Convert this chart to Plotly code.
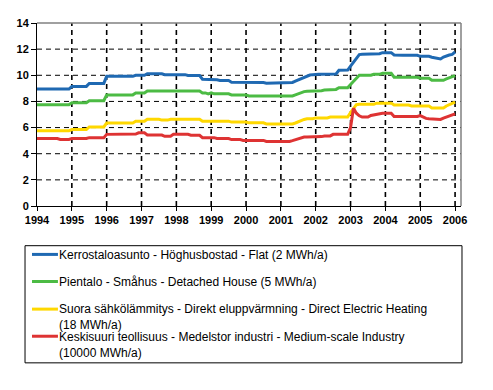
import pandas as pd
import plotly.graph_objects as go

# ---------------- data (monthly, Jan 1994 .. Jan 2006) ----------------
months = pd.date_range("1994-01-01", periods=145, freq="MS")
t_years = list(months.year + (months.month - 1) / 12.0)  # decimal years

flat = (
    [8.95] * 12 +
    [9.15] * 6 + [9.38] * 6 +
    [9.92] * 10 + [10.0] * 2 +
    [10.0] * 2 + [10.12] * 6 + [10.05] * 4 +
    [10.05] * 4 + [9.98] * 5 + [9.7] * 3 +
    [9.68] * 2 + [9.65] + [9.6] * 4 + [9.47] * 5 +
    [9.45] * 7 + [9.4] * 3 + [9.45] * 2 +
    [9.45] * 5 + [9.55, 9.65, 9.75, 9.85, 9.95, 10.02, 10.05] +
    [10.08] * 7 + [10.1] + [10.38, 10.4, 10.4, 10.4] +
    [10.7, 11.0, 11.3, 11.58, 11.6, 11.6, 11.6, 11.6, 11.6, 11.63, 11.65, 11.73] +
    [11.73] * 3 + [11.55] + [11.53] * 8 +
    [11.45] * 4 + [11.38, 11.33, 11.28, 11.25, 11.4, 11.5, 11.55, 11.6] +
    [11.78]
)

house = (
    [7.75] * 12 +
    [7.9] * 6 + [8.05] * 6 +
    [8.5] * 10 + [8.64] * 2 +
    [8.64] * 2 + [8.8] * 10 +
    [8.8] * 9 + [8.65] * 2 + [8.58] +
    [8.65] + [8.58] * 6 + [8.5] * 5 +
    [8.5] + [8.42] * 11 +
    [8.42] * 5 + [8.5, 8.6, 8.68, 8.75] + [8.78] * 3 +
    [8.82] * 3 + [8.87] * 3 + [8.92] * 2 + [9.05] * 4 +
    [9.3, 9.55, 9.8] + [10.0] * 5 + [10.07] * 3 + [10.15] +
    [10.15] * 3 + [9.85] * 9 +
    [9.78] * 4 + [9.62] * 5 + [9.72, 9.8, 9.87] +
    [9.98]
)

heating = (
    [5.75] * 12 +
    [5.85] * 6 + [6.05] * 6 +
    [6.35] * 10 + [6.48] * 2 +
    [6.48] * 2 + [6.64] * 5 + [6.57] * 3 + [6.64] * 2 +
    [6.64] * 9 + [6.49] * 3 +
    [6.49] * 7 + [6.42] * 5 +
    [6.42] + [6.36] * 6 + [6.28] * 5 +
    [6.28] * 5 + [6.35, 6.45, 6.55, 6.62] + [6.68] * 3 +
    [6.74] * 5 + [6.8] * 7 +
    [7.15, 7.5, 7.75] + [7.78] * 6 + [7.87] * 3 +
    [7.87] * 3 + [7.72] * 6 + [7.65] * 3 +
    [7.65] * 4 + [7.5] * 5 + [7.65, 7.75, 7.82] +
    [7.95]
)

industry = (
    [5.16] * 8 + [5.09] * 4 +
    [5.16] * 6 + [5.23] * 6 +
    [5.48] * 10 + [5.5, 5.6] +
    [5.6] * 2 + [5.43] * 6 + [5.33] * 3 + [5.48] +
    [5.48] * 5 + [5.41] * 4 + [5.23] * 3 +
    [5.23] * 2 + [5.16] * 5 + [5.08] * 4 + [5.02] +
    [5.02] * 7 + [4.94] * 5 +
    [4.94] * 4 + [5.0, 5.08, 5.15, 5.2] + [5.27] * 4 +
    [5.31] * 3 + [5.36] * 3 + [5.48] * 6 +
    [6.0, 7.48, 7.1, 6.9, 6.8, 6.8, 6.8, 6.93, 6.98, 6.98, 7.05, 7.1] +
    [7.1] * 3 + [6.85] * 9 +
    [6.92, 6.8, 6.7, 6.67, 6.67, 6.67, 6.62, 6.62, 6.72, 6.8, 6.9, 7.0] +
    [7.05]
)

series_names = [
    "Kerrostaloasunto - Höghusbostad - Flat (2 MWh/a)",
    "Pientalo - Småhus - Detached House (5 MWh/a)",
    "Suora sähkölämmitys - Direkt eluppvärmning - Direct Electric Heating<br>(18 MWh/a)",
    "Keskisuuri teollisuus - Medelstor industri - Medium-scale Industry<br>(10000 MWh/a)",
]
series_values = [flat, house, heating, industry]
series_colors = ["#1f69b2", "#4cbb44", "#ffd800", "#de3333"]

year_ticks = list(range(1994, 2007))
year_labels = [str(y) for y in year_ticks]
y_ticks = list(range(0, 15, 2))
Y_MAX = 14

# ---------------- figure ----------------
FONT = "Liberation Sans, Arial, sans-serif"
OFF = 8  # default page margin around the plot div (left/top)
W, H = 493 - OFF, 390 - OFF
ML, MT = 36 - OFF, 17 - OFF
MR, MB = 32, 184
pw, ph = W - ML - MR, H - MT - MB
GRID_DASH = "5px,4px"


def px_x(p):
    return (p - OFF - ML) / pw


def px_y(p):
    return (OFF + H - MB - p) / ph


fig = go.Figure()

for name, vals, col in zip(series_names, series_values, series_colors):
    fig.add_trace(go.Scatter(
        x=t_years, y=vals, mode="lines", name=name,
        line=dict(color=col, width=3), showlegend=False,
    ))

fig.update_xaxes(
    range=[1994, 2006.17],
    tickmode="array", tickvals=year_ticks, ticktext=year_labels,
    ticks="outside", ticklen=4, tickcolor="black",
    showline=True, linecolor="black", linewidth=1,
    tickfont=dict(family=FONT, size=11, color="black", weight="bold"),
    zeroline=False, showgrid=False,
)
fig.update_yaxes(
    range=[0, Y_MAX], tickmode="array", tickvals=y_ticks,
    ticks="outside", ticklen=5, tickcolor="black",
    showline=True, linecolor="black", linewidth=1,
    tickfont=dict(family=FONT, size=11, color="black", weight="bold"),
    zeroline=False, showgrid=False,
)

shapes = []
# vertical dashed grid at each year tick
for yv in year_ticks[1:]:
    shapes.append(dict(type="line", xref="x", yref="y", x0=yv, x1=yv, y0=0, y1=Y_MAX,
                       layer="below", line=dict(color="black", width=1.6, dash=GRID_DASH)))
# horizontal dashed grid
for v in y_ticks[1:-1]:
    shapes.append(dict(type="line", xref="paper", yref="y", x0=0, x1=1, y0=v, y1=v,
                       layer="below", line=dict(color="black", width=1, dash=GRID_DASH)))
shapes += [
    # gray top and right frame
    dict(type="line", xref="paper", yref="paper", x0=0, x1=1, y0=1, y1=1,
         line=dict(color="#808080", width=1.5)),
    dict(type="line", xref="paper", yref="paper", x0=1, x1=1, y0=0, y1=1,
         line=dict(color="#808080", width=1.5)),
    # legend box
    dict(type="rect", xref="paper", yref="paper",
         x0=px_x(24), x1=px_x(462), y0=px_y(368), y1=px_y(247),
         line=dict(color="black", width=1), fillcolor="rgba(0,0,0,0)"),
]
annotations = []
row_y = [256, 284, 312.5, 340.5]
for name, col, ry in zip(series_names, series_colors, row_y):
    shapes.append(dict(type="line", xref="paper", yref="paper",
                       x0=px_x(31), x1=px_x(57), y0=px_y(ry), y1=px_y(ry),
                       line=dict(color=col, width=3)))
    annotations.append(dict(
        xref="paper", yref="paper", x=px_x(56), y=px_y(ry - 9),
        xanchor="left", yanchor="top", align="left", showarrow=False,
        text=name, font=dict(family=FONT, size=12, color="black"),
    ))

fig.update_layout(
    width=W, height=H,
    margin=dict(l=ML, r=MR, t=MT, b=MB),
    paper_bgcolor="white", plot_bgcolor="white",
    shapes=shapes, annotations=annotations,
    showlegend=False,
)

fig.write_html("out.html")
